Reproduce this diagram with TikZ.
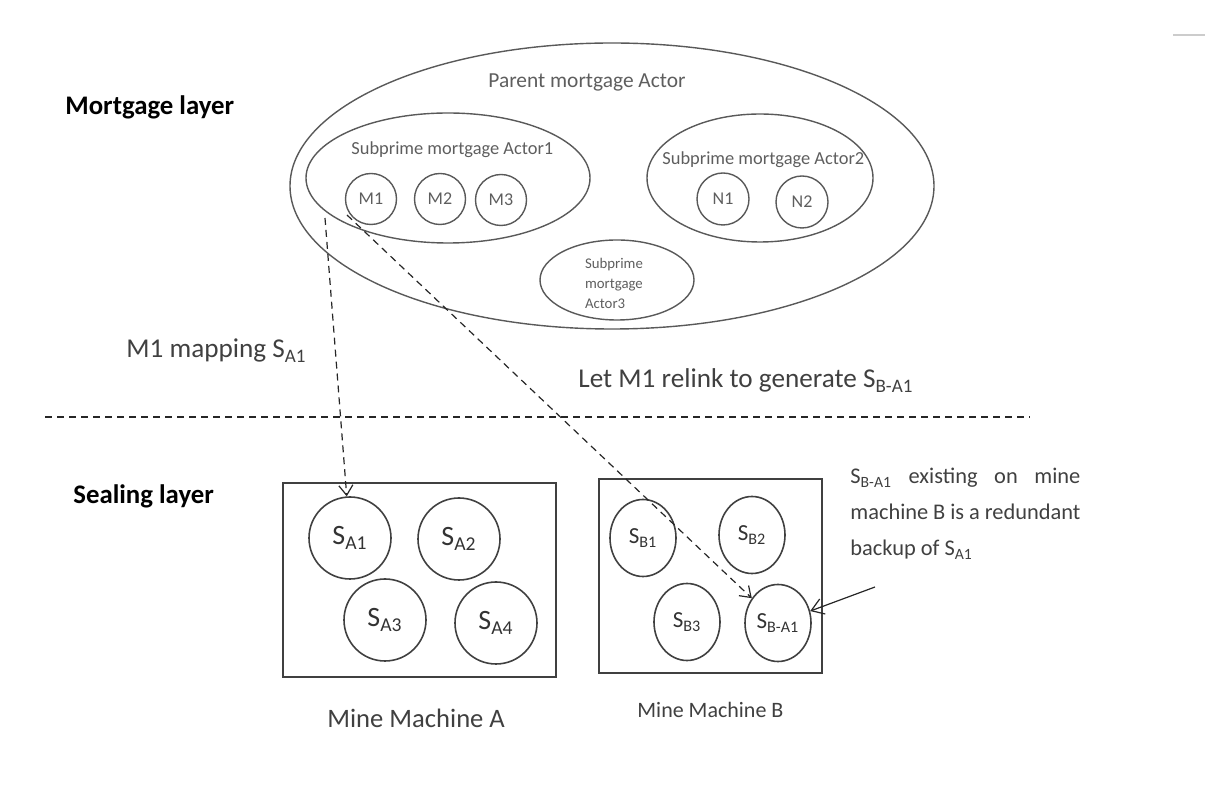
\documentclass[tikz,border=0pt]{standalone}
\usepackage{fontspec}
\setmainfont{Carlito}
\usetikzlibrary{shapes.geometric,arrows.meta}
\definecolor{inkgray}{HTML}{595959}
\definecolor{textgray}{HTML}{5E5E5E}
\tikzset{
  actor/.style={draw=inkgray, line width=0.7pt, ellipse, inner sep=0pt},
  actorlabel/.style={text=textgray, anchor=base west, inner sep=0pt, font=\fontsize{9.2}{11}\selectfont},
  mcircle/.style={draw=inkgray, line width=0.7pt, circle, inner sep=0pt, minimum size=25.5pt, text=textgray, font=\fontsize{9}{11}\selectfont},
  scircle/.style={draw=black!75, line width=0.8pt, circle, inner sep=0pt, minimum size=41pt, text=black!80, font=\fontsize{14}{16}\selectfont},
  sbcircle/.style={draw=black!75, line width=0.8pt, ellipse, inner sep=0pt, minimum width=33pt, minimum height=38.5pt, text=black!80, font=\fontsize{11.5}{13}\selectfont},
  machine/.style={draw=black!75, line width=0.7pt, rectangle, inner sep=0pt},
  layerlabel/.style={anchor=base west, inner sep=0pt, font=\bfseries\fontsize{13.4}{16}\selectfont},
  caption/.style={text=black!75, anchor=base west, inner sep=0pt, font=\fontsize{13.6}{16}\selectfont},
  maplink/.style={draw=black!85, line width=0.6pt, dash pattern=on 3.5pt off 2.5pt, -{Straight Barb[length=5pt,width=7pt]}},
  notelink/.style={draw=black!85, line width=0.6pt, -{Straight Barb[length=6pt,width=8pt]}},
}

\begin{document}
\begin{tikzpicture}[x=0.5pt, y=-0.5pt]
		%%%%% START %%%%%
		\useasboundingbox (0,0) rectangle (1232,790);
		
		\draw[draw=black!20, line width=1pt] (1173,35) -- (1205,35);
		
		% mortgage layer
		\node[layerlabel] (mortgage) at (65,115) {Mortgage layer};
		
		\node[actor, minimum width=322pt, minimum height=143pt] (parent) at (612,186) {};
		\node[actorlabel, font=\fontsize{10.7}{13}\selectfont] (parentlbl) at (488,88) {Parent mortgage Actor};
		
		\node[actor, minimum width=142pt, minimum height=65pt] (actA) at (448,178) {};
		\node[actorlabel] (actAlbl) at (351,155) {Subprime mortgage Actor1};
		\node[mcircle] (M1) at (371,199) {M1};
		\node[mcircle] (M2) at (440,199) {M2};
		\node[mcircle] (M3) at (501,200) {M3};
		
		\node[actor, minimum width=113pt, minimum height=64pt] (actB) at (760,178) {};
		\node[actorlabel] (actBlbl) at (662,165) {Subprime mortgage Actor2};
		\node[mcircle, minimum size=26pt] (N1) at (723,199) {N1};
		\node[mcircle, minimum size=26pt] (N2) at (802,202) {N2};
		
		\node[actor, minimum width=77pt, minimum height=40pt] (actC) at (617,280) {};
		\node[text=textgray, align=left, inner sep=0pt, font=\fontsize{7.4}{10}\selectfont] (actClbl) at (614,283) {Subprime\\mortgage\\Actor3};
		
		\node[caption] (maplbl) at (126,358) {M1 mapping S\textsubscript{A1}};
		\node[caption] (relinklbl) at (578,388) {Let M1 relink to generate S\textsubscript{B-A1}};
		
		% layer border
		\coordinate (sepL) at (45,417);
		\coordinate (sepR) at (1030,417);
		\draw[draw=black!85, line width=0.6pt, dash pattern=on 3.5pt off 2.5pt] (sepL) -- (sepR);
		
		% sealing layer
		\node[layerlabel] (sealing) at (73,504) {Sealing layer};
		
		\node[machine, minimum width=136.5pt, minimum height=97pt] (boxA) at (419.5,580) {};
		\node[scircle] (SA1) at (350,538) {S\textsubscript{A1}};
		\node[scircle] (SA2) at (459,539) {S\textsubscript{A2}};
		\node[scircle] (SA3) at (385,620) {S\textsubscript{A3}};
		\node[scircle] (SA4) at (496,623) {S\textsubscript{A4}};
		\node[caption, font=\fontsize{13.3}{16}\selectfont] (boxAlbl) at (327,727) {Mine Machine A};
		
		\node[machine, minimum width=111.5pt, minimum height=97pt] (boxB) at (710.5,576) {};
		\node[sbcircle] (SB1) at (643,538) {S\textsubscript{B1}};
		\node[sbcircle] (SB2) at (752,535) {S\textsubscript{B2}};
		\node[sbcircle] (SB3) at (687,622) {S\textsubscript{B3}};
		\node[sbcircle] (SBA1) at (778,623) {S\textsubscript{B-A1}};
		\node[caption, font=\fontsize{11}{13}\selectfont] (boxBlbl) at (637,718) {Mine Machine B};
		
		\node[text=black!75, anchor=north west, inner sep=0pt, text width=115pt, align=justify, font=\fontsize{11.2}{18}\selectfont] (note) at (850,468)
			{S\textsubscript{B-A1} existing on mine\linebreak machine B is a redundant\linebreak backup of S\textsubscript{A1}};
		
		% links
		\coordinate (mapA) at (325,218);
		\coordinate (mapB) at (347,215);
		\coordinate (noteTip) at (875,587);
		\draw[maplink] (mapA) -- (SA1);
		\draw[maplink] (mapB) -- (SBA1);
		\draw[notelink] (noteTip) -- (SBA1);
		
		%%%%% END %%%%%
	\end{tikzpicture}
\end{document}
